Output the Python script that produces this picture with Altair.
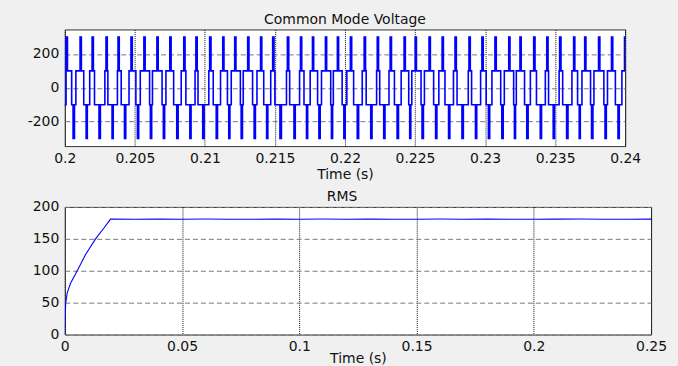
import altair as alt
import pandas as pd

# ---------------- data ----------------
# Top panel: centres of the +300 V pulses (s)
spike_t = [0.20014, 0.20114, 0.20199, 0.20299, 0.20384, 0.20477, 0.20569, 0.20662,
           0.20754, 0.20854, 0.2094, 0.21039, 0.21132, 0.21217, 0.2131, 0.21402,
           0.21488, 0.21594, 0.21687, 0.21772, 0.21865, 0.2195, 0.22043, 0.22142,
           0.22235, 0.22327, 0.22427, 0.22505, 0.22605, 0.22698, 0.2279, 0.2289,
           0.22982, 0.23075, 0.23174, 0.23253, 0.23352, 0.23445, 0.23537, 0.23637,
           0.23715, 0.23815, 0.23907, 0.24]
# width of each +100 V shelf, as a fraction of the carrier interval
shelf_hi = [0.30, 0.20, 0.08, 0.05, 0.15, 0.28, 0.34, 0.30, 0.18, 0.07, 0.06,
            0.17, 0.29, 0.34, 0.28, 0.16, 0.06, 0.07, 0.19, 0.30, 0.34, 0.27,
            0.14, 0.05, 0.09, 0.21, 0.31, 0.33, 0.25, 0.12, 0.05, 0.10, 0.23,
            0.32, 0.33, 0.24, 0.11, 0.04, 0.12, 0.25, 0.33, 0.31, 0.20]
levels = [300, 100, -100, -300]
peak_frac = 0.10     # width of +300 pulse
trough_frac = 0.10   # width of -300 pulse

top_xticks = [0.2, 0.205, 0.21, 0.215, 0.22, 0.225, 0.23, 0.235, 0.24]
top_yticks = [-200, 0, 200]

# Bottom panel: RMS
rms_t = [0, 0.00014, 0.0004, 0.001, 0.0024, 0.0053, 0.0088, 0.0131, 0.0167, 0.0195,
         0.03, 0.04, 0.05, 0.06, 0.07, 0.08, 0.09, 0.10, 0.11, 0.12, 0.13, 0.14,
         0.15, 0.16, 0.17, 0.18, 0.19, 0.20, 0.21, 0.22, 0.23, 0.24, 0.25]
rms_v = [0, 25, 50, 65, 80, 100, 125, 150, 167, 181,
         180.6, 180.9, 180.7, 181.0, 180.8, 180.6, 180.9, 180.8, 181.0, 180.7, 180.9, 180.6,
         180.8, 181.0, 180.7, 180.9, 180.8, 180.6, 180.9, 181.0, 180.7, 180.8, 180.9]
bot_xticks = [0, 0.05, 0.1, 0.15, 0.2, 0.25]
bot_yticks = [0, 50, 100, 150, 200]

# ---------------- build the step path ----------------
pt, pv = [0.1998], [-100]
for k in range(len(spike_t) - 1):
    t0 = spike_t[k]
    g = spike_t[k + 1] - t0
    p = shelf_hi[k]
    q = (1 - peak_frac - trough_frac) / 2 - p
    if k == 0:
        pt.append(t0 - peak_frac / 2 * g)
        pv.append(levels[0])
    seq = [(peak_frac / 2, levels[1]), (p, levels[2]), (q, levels[3]),
           (trough_frac, levels[2]), (q, levels[1]), (p, levels[0])]
    t = t0
    for dur, lev in seq:
        t += dur * g
        pt.append(t)
        pv.append(lev)
pt.append(0.2402)
pv.append(levels[0])
top_df = pd.DataFrame({"t": pt, "v": pv, "i": range(len(pt))})
bot_df = pd.DataFrame({"t": rms_t, "v": rms_v})

FONT = "DejaVu Sans"
LBL = "datum.value < 0 ? '-' + format(-datum.value, '~g') : format(datum.value, '~g')"

def xaxis(vals, pad_title):
    return alt.Axis(values=vals, labelExpr=LBL, title="Time (s)", labelFlush=False,
                    labelOverlap=False, grid=True, gridDash=[1, 1], gridColor="#111",
                    gridOpacity=1, labelPadding=5, titlePadding=pad_title, minExtent=0)

def yaxis(vals):
    return alt.Axis(values=vals, labelExpr=LBL, title=None, grid=True, gridDash=[5, 3],
                    gridColor="#777", gridOpacity=1, labelPadding=6)

top = alt.Chart(top_df, title=alt.TitleParams(
        "Common Mode Voltage", fontSize=14, font=FONT, fontWeight="normal",
        offset=-9, baseline="alphabetic", anchor="middle", color="#111")).mark_line(
    interpolate="step-after", color="#0000ff", strokeWidth=1.6, clip=True
).encode(
    x=alt.X("t:Q", scale=alt.Scale(domain=[0.2, 0.24], nice=False, zero=False),
            axis=xaxis(top_xticks, 2)),
    y=alt.Y("v:Q", scale=alt.Scale(domain=[-345, 345], nice=False),
            axis=yaxis(top_yticks)),
    order="i:Q",
).properties(width=562, height=117)

bottom = alt.Chart(bot_df, title=alt.TitleParams(
        "RMS", fontSize=14, font=FONT, fontWeight="normal", offset=-15,
        baseline="alphabetic", anchor="middle", dx=-16, color="#111")).mark_line(
    color="#0000ff", strokeWidth=1.1, clip=True
).encode(
    x=alt.X("t:Q", scale=alt.Scale(domain=[0, 0.25], nice=False),
            axis=xaxis(bot_xticks, -2)),
    y=alt.Y("v:Q", scale=alt.Scale(domain=[0, 200], nice=False),
            axis=yaxis(bot_yticks)),
).properties(width=588, height=128)

chart = alt.vconcat(top, bottom, spacing=61, bounds="flush").properties(
    background="#f0f0f0",
    padding={"left": 26, "top": 12, "right": 10, "bottom": 0},
).configure_view(
    stroke="#333", strokeWidth=1, fill="white"
).configure_axis(
    labelFont=FONT, labelFontSize=14, labelColor="#111",
    titleFont=FONT, titleFontSize=14, titleFontWeight="normal", titleColor="#111",
    domain=False, ticks=False, tickSize=0,
)

chart.save("out.html", embed_options={"renderer": "svg", "actions": False})
